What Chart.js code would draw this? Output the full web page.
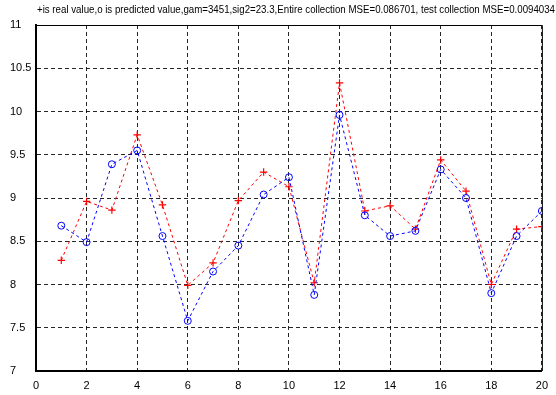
<!DOCTYPE html>
<html>
<head>
<meta charset="utf-8">
<script src="https://cdn.jsdelivr.net/npm/chart.js@4/dist/chart.umd.min.js"></script>
<style>
  html, body { margin: 0; padding: 0; background: #fff; }
  #wrap { width: 556px; height: 395px; }
</style>
</head>
<body>
<div id="wrap"><canvas id="chart1" width="556" height="395"></canvas></div>
<script>
    // sample index 1..20
    const samples = [1, 2, 3, 4, 5, 6, 7, 8, 9, 10, 11, 12, 13, 14, 15, 16, 17, 18, 19, 20];
    // + real value
    const realValues = [8.28, 8.96, 8.86, 9.73, 8.92, 7.99, 8.25, 8.97, 9.30, 9.13, 8.02, 10.33, 8.85, 8.91, 8.64, 9.44, 9.08, 8.00, 8.64, 8.67];
    // o predicted value
    const predictedValues = [8.68, 8.49, 9.39, 9.55, 8.56, 7.58, 8.15, 8.45, 9.04, 9.24, 7.88, 9.96, 8.80, 8.56, 8.62, 9.33, 9.00, 7.90, 8.56, 8.85];

    const titleText = '+is real value,o is predicted value,gam=3451,sig2=23.3,Entire collection MSE=0.086701, test collection MSE=0.0094034';

    // solid frame on top/right like the matlab box, plus the title line
    const boxPlugin = {
    id: 'box',
    afterDraw(chart) {
    const a = chart.chartArea;
    const c = chart.ctx;
    c.save();
    c.strokeStyle = '#000';
    c.lineWidth = 1;
    c.beginPath();
    c.moveTo(a.left, a.top + 0.5);
    c.lineTo(a.right + 0.5, a.top + 0.5);
    c.lineTo(a.right + 0.5, a.bottom);
    c.stroke();
    // title squeezed to the width it has in the original (x 37..555)
    c.fillStyle = '#000';
    c.font = '11px "Liberation Sans", Arial, sans-serif';
    c.textAlign = 'left';
    c.textBaseline = 'middle';
    const w = c.measureText(titleText).width;
    c.translate(37, 10);
    c.scale(518 / w, 1);
    c.fillText(titleText, 0, 0);
    c.restore();
}
};

    const ctx1 = document.getElementById('chart1').getContext('2d');
    const chart1 = new Chart(ctx1, {
    type: 'line',
    data: {
    datasets: [{
    label: 'predicted',
    data: samples.map((x, i) => ({x: x, y: predictedValues[i]})),
    borderColor: '#0000ff',
    borderWidth: 1,
    borderDash: [3, 3],
    pointStyle: 'circle',
    pointRadius: 3.5,
    pointBorderColor: '#0000ff',
    pointBackgroundColor: 'rgba(0,0,0,0)',
    pointBorderWidth: 1,
    tension: 0
}, {
    label: 'real',
    data: samples.map((x, i) => ({x: x, y: realValues[i]})),
    borderColor: '#ff0000',
    borderWidth: 1,
    borderDash: [3, 3],
    pointStyle: 'cross',
    pointRadius: 3.7,
    pointBorderColor: '#ff0000',
    pointBorderWidth: 1.2,
    tension: 0
}]
},
    options: {
    responsive: false,
    animation: false,
    layout: { padding: { left: 10, right: 9, top: 25, bottom: 0 } },
    plugins: {
    legend: { display: false },
    tooltip: { enabled: false },
    title: { display: false }
},
    scales: {
    x: {
    type: 'linear',
    min: 0,
    max: 20,
    ticks: {
    stepSize: 2,
    color: '#000',
    padding: 8,
    maxRotation: 0,
    font: { family: "'Liberation Sans', sans-serif", size: 11 }
},
    grid: { color: 'rgba(0,0,0,0.85)', drawTicks: false, lineWidth: 1 },
    border: { color: '#000', width: 2, dash: [4, 3] },
    afterFit(s) { s.height = 24; }
},
    y: {
    min: 7,
    max: 11,
    ticks: {
    stepSize: 0.5,
    color: '#000',
    crossAlign: 'far',
    callback: v => String(+v.toFixed(2)),
    font: { family: "'Liberation Sans', sans-serif", size: 11 }
},
    grid: { color: 'rgba(0,0,0,0.85)', drawTicks: false, lineWidth: 1 },
    border: { color: '#000', width: 2, dash: [4, 3] },
    afterFit(s) { s.width = 26; }
}
}
},
    plugins: [boxPlugin]
});
</script>
</body>
</html>
